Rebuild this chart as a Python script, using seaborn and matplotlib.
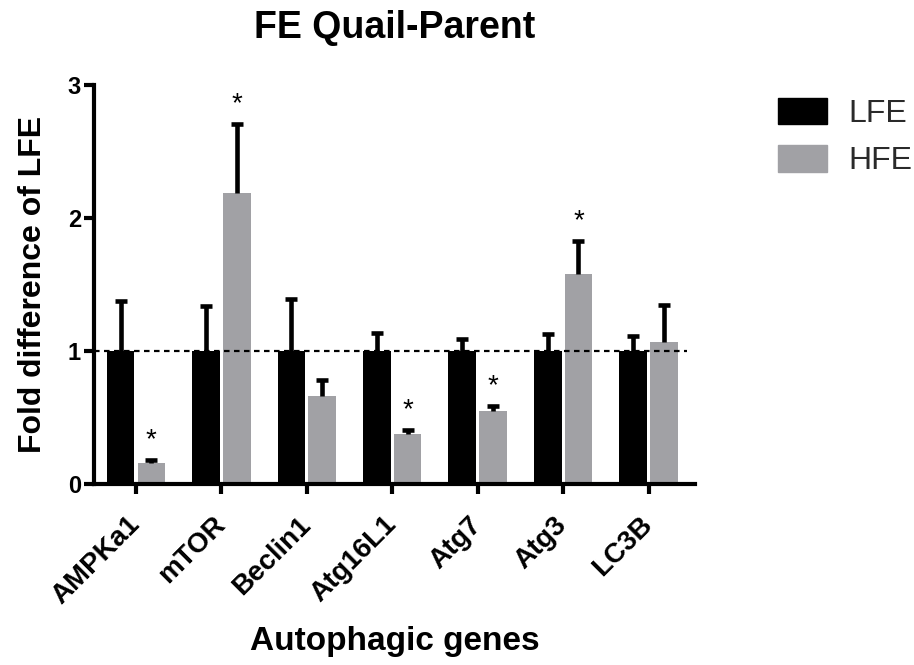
import matplotlib
matplotlib.use("Agg")
import matplotlib.pyplot as plt
import numpy as np
import pandas as pd
import seaborn as sns

genes = ["AMPKa1", "mTOR", "Beclin1", "Atg16L1", "Atg7", "Atg3", "LC3B"]
lfe_mean = [1.0, 1.0, 1.0, 1.0, 1.0, 1.0, 1.0]
lfe_err = [0.38, 0.34, 0.39, 0.14, 0.09, 0.13, 0.11]
hfe_mean = [0.16, 2.19, 0.66, 0.38, 0.55, 1.58, 1.07]
hfe_err = [0.02, 0.52, 0.12, 0.03, 0.04, 0.25, 0.28]
hfe_signif = [True, True, False, True, True, True, False]

groups = ["LFE", "HFE"]
colors = {"LFE": "#000000", "HFE": "#a1a1a5"}

frame = pd.DataFrame({
    "gene": genes * 2,
    "group": ["LFE"] * len(genes) + ["HFE"] * len(genes),
    "value": lfe_mean + hfe_mean,
    "err": lfe_err + hfe_err,
})

sns.set_style("ticks")
plt.rcParams["font.family"] = ["Liberation Sans", "DejaVu Sans"]
plt.rcParams.update({"text.color": "black", "axes.labelcolor": "black",
                     "xtick.color": "black", "ytick.color": "black",
                     "axes.edgecolor": "black"})

fig, ax = plt.subplots(figsize=(9.14, 6.65), dpi=100)
fig.subplots_adjust(left=0.103, right=0.760, top=0.872, bottom=0.272)

sns.barplot(data=frame, x="gene", y="value", hue="group", order=genes, hue_order=groups,
            palette=colors, width=0.72, gap=0.1, errorbar=None, saturation=1,
            edgecolor="none", legend=False, ax=ax)

# upper-only error bars with caps, positioned on the drawn bars
bars = [p for p in ax.patches if p.get_height() > 0][: 2 * len(genes)]
for bar, (_, row) in zip(bars, frame.iterrows()):
    cx = bar.get_x() + bar.get_width() / 2
    top = bar.get_height()
    _, caps, _ = ax.errorbar(cx, top, yerr=[[0], [row["err"]]], fmt="none", ecolor="black",
                             elinewidth=3.3, capsize=4, capthick=3.3, zorder=3)
    caps[0].remove()
    if row["group"] == "HFE" and hfe_signif[genes.index(row["gene"])]:
        ax.text(cx, top + row["err"] + 0.05, "*", ha="center", va="bottom", fontsize=20)

ax.axhline(1.0, xmax=0.987, color="black", linestyle=(0, (2.5, 2)), linewidth=1.6, zorder=4)

ax.set_ylim(0, 3)
ax.set_xlim(-0.49, 6.54)
ax.set_yticks([0, 1, 2, 3])
ax.tick_params(axis="both", width=3, length=7.5, labelsize=17, direction="out", pad=2)
ax.tick_params(axis="x", pad=19)
for lbl in ax.get_yticklabels():
    lbl.set_fontweight("bold")
ax.set_xticks(range(len(genes)))
ax.set_xticklabels(genes, rotation=45, ha="right", va="center", rotation_mode="anchor",
                   fontweight="bold", fontsize=20)

for side in ("left", "bottom"):
    ax.spines[side].set_linewidth(3)
sns.despine(ax=ax)

ax.set_title("FE Quail-Parent", fontsize=27, fontweight="bold", pad=34)
ax.set_ylabel("Fold difference of LFE", fontsize=23, fontweight="bold", labelpad=14)
ax.set_xlabel("Autophagic genes", fontsize=24, fontweight="bold", labelpad=12)

handles = [plt.Rectangle((0, 0), 1, 1, color=colors[g]) for g in groups]
fig.legend(handles, groups, loc="upper left", bbox_to_anchor=(0.851, 0.853),
           frameon=False, fontsize=23, handlelength=1.53, handleheight=0.9,
           labelspacing=0.5, handletextpad=0.69, borderpad=0, borderaxespad=0,
           labelcolor="#2a2a2a")

fig.savefig("out.png", dpi=100)
